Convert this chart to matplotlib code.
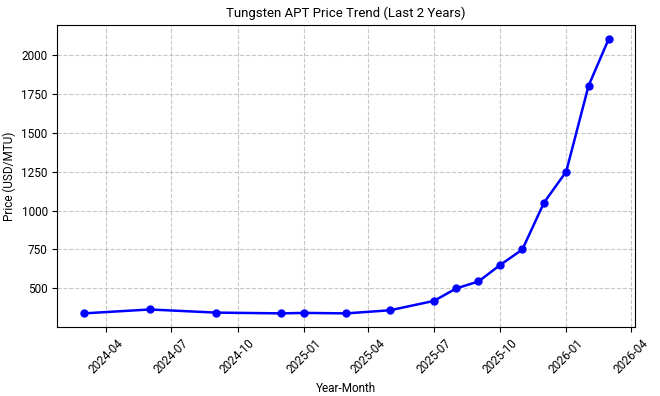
import pandas as pd
import matplotlib
matplotlib.use('Agg')
from matplotlib import pyplot as plt
import matplotlib.dates as mdates

plt.rcParams['font.family'] = ['Roboto', 'DejaVu Sans']

# data
months = ['2024-03', '2024-06', '2024-09', '2024-12', '2025-01', '2025-03',
          '2025-05', '2025-07', '2025-08', '2025-09', '2025-10', '2025-11',
          '2025-12', '2026-01', '2026-02', '2026-03']
prices = [340, 365, 345, 340, 343, 340, 360, 420, 500, 545, 650, 750,
          1050, 1250, 1800, 2100]

dates = pd.to_datetime(months, format='%Y-%m')

fig, ax = plt.subplots(figsize=(6.6, 3.96), dpi=100)
fig.subplots_adjust(left=0.087, right=0.962, top=0.936, bottom=0.174)

ax.plot(dates, prices, color='blue', marker='o', linewidth=1.8, markersize=5)

ax.set_title('Tungsten APT Price Trend (Last 2 Years)', fontsize=9.5)
ax.set_xlabel('Year-Month', fontsize=8.5)
ax.set_ylabel('Price (USD/MTU)', fontsize=8.5)

ax.xaxis.set_major_locator(mdates.MonthLocator(bymonth=[1, 4, 7, 10]))
ax.xaxis.set_major_formatter(mdates.DateFormatter('%Y-%m'))
ax.tick_params(axis='both', labelsize=8.5)
plt.setp(ax.get_xticklabels(), rotation=45)

ax.grid(True, linestyle='--', color='#b0b0b0', alpha=0.7, linewidth=0.8)

plt.savefig('out.png', dpi=100)
